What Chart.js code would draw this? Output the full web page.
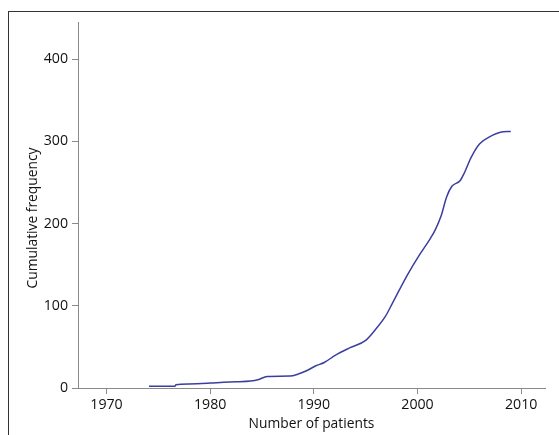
<!DOCTYPE html>
<html>
<head>
<meta charset="utf-8">
<script src="https://cdn.jsdelivr.net/npm/chart.js@4/dist/chart.umd.min.js"></script>
<style>
  html, body { margin: 0; padding: 0; background: #fff; overflow: hidden; }
  #wrap { position: relative; width: 559px; height: 435px; }
  #frame { position: absolute; left: 8px; top: 11px; width: 600px; height: 500px;
           border-top: 1.5px solid #333; border-left: 1.5px solid #333; pointer-events: none; }
</style>
</head>
<body>
<div id="wrap">
  <canvas id="c" width="559" height="435"></canvas>
  <div id="frame"></div>
</div>
<script>
const years = [1974.1, 1976.6, 1976.7, 1978.0, 1980.0, 1981.3, 1982.5, 1983.9, 1984.6, 1985.5,
               1987.7, 1988.5, 1989.3, 1990.2, 1991.0, 1992.1, 1993.5, 1995.0, 1996.0, 1996.9,
               1997.5, 1998.2, 1999.1, 2000.1, 2001.2, 2001.7, 2002.3, 2002.8, 2003.3, 2004.1,
               2004.5, 2005.2, 2006.0, 2006.9, 2008.0, 2009.0];
const cumulative = [2, 2, 4, 5, 6, 7, 7.5, 8.5, 10, 14,
                    14.5, 17, 21, 27, 31, 40, 49, 58, 72, 87,
                    101, 118, 139, 160, 181, 192, 210, 232, 245, 252,
                    261, 281, 297, 305, 311, 312];
const xTicks = [1970, 1980, 1990, 2000, 2010];
const yTicks = [0, 100, 200, 300, 400];
const xTitle = 'Number of patients';
const yTitle = 'Cumulative frequency';

const FAMILY = "'Open Sans', 'DejaVu Sans', sans-serif";
const TICK_FONT = { family: FAMILY, size: 14.2 };
const TITLE_FONT = { family: FAMILY, size: 13.8 };
const AXIS_COLOR = '#8a8a8a';

const yTitlePlugin = {
  id: 'yTitlePlugin',
  afterDraw(chart) {
    const ctx = chart.ctx;
    const area = chart.chartArea;
    ctx.save();
    ctx.font = TITLE_FONT.size + 'px ' + FAMILY;
    ctx.fillStyle = '#111';
    ctx.textAlign = 'center';
    ctx.textBaseline = 'middle';
    ctx.translate(33, (area.top + area.bottom) / 2 + 13);
    ctx.rotate(-Math.PI / 2);
    ctx.fillText(yTitle, 0, 0);
    ctx.restore();
  }
};

new Chart(document.getElementById('c'), {
  type: 'line',
  data: {
    datasets: [{
      data: years.map((y, i) => ({ x: y, y: cumulative[i] })),
      borderColor: '#3a3f9e',
      borderWidth: 1.5,
      pointRadius: 0,
      fill: false,
      cubicInterpolationMode: 'monotone'
    }]
  },
  plugins: [yTitlePlugin],
  options: {
    responsive: false,
    animation: false,
    layout: { padding: { left: 0, right: 14, top: 22, bottom: 0 } },
    plugins: { legend: { display: false }, tooltip: { enabled: false } },
    scales: {
      x: {
        type: 'linear',
        min: 1967.25,
        max: 2012.3,
        afterBuildTicks: (axis) => { axis.ticks = xTicks.map(v => ({ value: v })); },
        afterFit: (axis) => { axis.height = 47; },
        grid: { display: true, drawOnChartArea: false, drawTicks: true, tickLength: 6, color: AXIS_COLOR },
        border: { display: true, color: AXIS_COLOR, width: 1 },
        ticks: { font: TICK_FONT, color: '#111', padding: 2, maxRotation: 0, callback: v => String(v) },
        title: { display: true, text: xTitle, font: TITLE_FONT, color: '#111', padding: { top: 0, bottom: 3 } }
      },
      y: {
        type: 'linear',
        min: 0,
        max: 445,
        afterBuildTicks: (axis) => { axis.ticks = yTicks.map(v => ({ value: v })); },
        afterFit: (axis) => { axis.width = 78; },
        grid: { display: true, drawOnChartArea: false, drawTicks: true, tickLength: 6, color: AXIS_COLOR },
        border: { display: true, color: AXIS_COLOR, width: 1 },
        ticks: { font: TICK_FONT, color: '#111', padding: 4 },
        title: { display: false }
      }
    }
  }
});
</script>
</body>
</html>
